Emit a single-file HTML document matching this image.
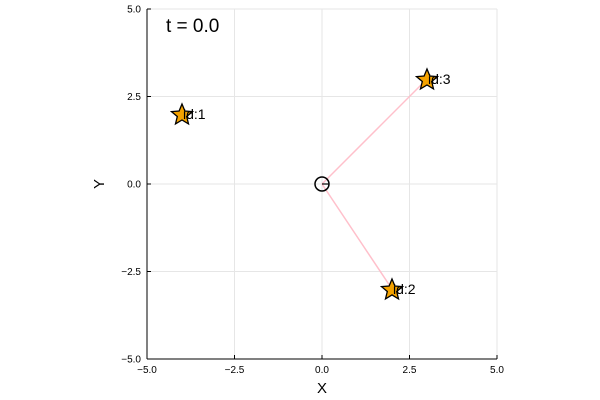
<!DOCTYPE html>
<html><head><meta charset="utf-8"><style>body{margin:0;background:#fff}svg{display:block;font-family:"Liberation Sans",sans-serif}</style></head>
<body>
<svg id="c" width="600" height="400"></svg>
<script>
const agentIds=["id:1","id:2","id:3"];
const agentX=[-4,2,3];
const agentY=[2,-3,3];
const centerX=[0];
const centerY=[0];
const linkedAgents=[1,2];
const tickVals=[-5,-2.5,0,2.5,5];
const tickLabels=["−5.0","−2.5","0.0","2.5","5.0"];
const titleText="t = 0.0";
const NS="http://www.w3.org/2000/svg";
const svg=document.getElementById('c');
const L=147,R=497,T=9,B=359;
const sx=v=>L+(v+5)/10*(R-L);
const sy=v=>B-(v+5)/10*(B-T);
function mk(t,a,p){const e=document.createElementNS(NS,t);for(const k in a)e.setAttribute(k,a[k]);(p||svg).appendChild(e);return e;}
tickVals.forEach((v,i)=>{
 let g=mk('line',{x1:sx(v),x2:sx(v),y1:T,y2:B,stroke:'#e6e6e6','stroke-width':1});
 
 
 g=mk('line',{x1:L,x2:R,y1:sy(v),y2:sy(v),stroke:'#e6e6e6','stroke-width':1});
 
 
 let t=mk('text',{x:sx(v),y:B+14,'font-size':10,'text-anchor':'middle'});t.textContent=tickLabels[i];
 
 
 t=mk('text',{x:L-6,y:sy(v)+3.5,'font-size':10,'text-anchor':'end'});t.textContent=tickLabels[i];
 
 
 mk('line',{x1:sx(v),x2:sx(v),y1:B,y2:B-4,stroke:'#000'});
 mk('line',{x1:L,x2:L+4,y1:sy(v),y2:sy(v),stroke:'#000'});
});
let ax=mk('line',{x1:L,x2:R,y1:B,y2:B,stroke:'#000'});
ax=mk('line',{x1:L,x2:L,y1:T,y2:B,stroke:'#000'});
let t=mk('text',{x:(L+R)/2,y:393,'font-size':15,'text-anchor':'middle'});t.textContent='X';
t=mk('text',{x:104,y:184,'font-size':15,'text-anchor':'middle',transform:'rotate(-90 104 184)'});t.textContent='Y';
t=mk('text',{x:166,y:32,'font-size':19});t.textContent=titleText;
const cx=sx(centerX[0]),cy=sy(centerY[0]);
linkedAgents.forEach(i=>{const l=mk('line',{x1:cx,y1:cy,x2:sx(agentX[i]),y2:sy(agentY[i]),stroke:'#ffc0cb','stroke-width':1.5});
 
 });
let c=mk('circle',{cx:cx,cy:cy,r:7,fill:'none',stroke:'#000','stroke-width':1.5});


mk('line',{x1:cx,y1:cy,x2:cx+7,y2:cy,stroke:'#000','stroke-width':1.2});
function star(x,y,r){let p=[];for(let k=0;k<10;k++){const a=-Math.PI/2+k*Math.PI/5,rr=k%2?r*0.45:r;p.push((x+rr*Math.cos(a)).toFixed(1)+','+(y+rr*Math.sin(a)).toFixed(1));}return p.join(' ');}
agentX.forEach((v,i)=>{const x=sx(v),y=sy(agentY[i]);
 const s=mk('polygon',{points:star(x,y+1,11),fill:'#f5a300',stroke:'#000','stroke-width':1.3});
 
 
 const lb=mk('text',{x:x+1,y:y+5,'font-size':14});lb.textContent=agentIds[i];
 
 });
</script>
</body></html>
